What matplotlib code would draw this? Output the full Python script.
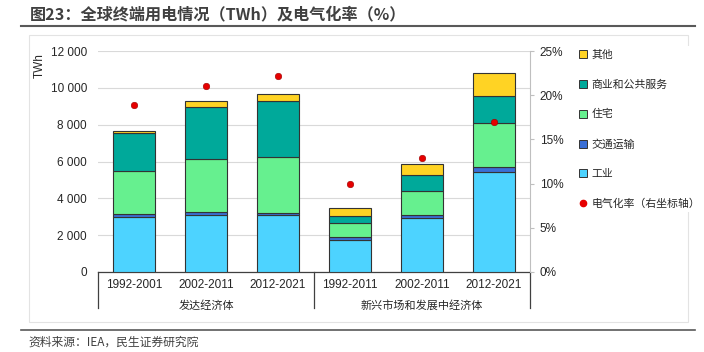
import matplotlib
matplotlib.use('Agg')
import matplotlib.pyplot as plt
from matplotlib.lines import Line2D
from matplotlib.patches import Rectangle
from matplotlib.transforms import blended_transform_factory
import numpy as np

plt.rcParams['font.family'] = ['Liberation Sans', 'Noto Sans CJK SC', 'DejaVu Sans']

# data (TWh)
periods = ['1992-2001', '2002-2011', '2012-2021', '1992-2011', '2002-2011', '2012-2021']
groups = ['发达经济体', '新兴市场和发展中经济体']
industry = [2990, 3100, 3080, 1720, 2910, 5410]
transport = [160, 140, 140, 180, 190, 280]
residential = [2320, 2880, 3050, 740, 1320, 2420]
commercial = [2060, 2850, 3000, 420, 830, 1450]
other = [150, 300, 400, 420, 600, 1250]
elec_rate = [18.9, 21.0, 22.2, 10.0, 12.9, 17.0]

series = [
    ('工业', industry, '#4DD3FF'),
    ('交通运输', transport, '#3A6FD6'),
    ('住宅', residential, '#66F08F'),
    ('商业和公共服务', commercial, '#00A99A'),
    ('其他', other, '#FFD324'),
]

fig = plt.figure(figsize=(7.04, 3.52), dpi=100)
W, H = 704, 352

def fx(px):
    return px / W

def fy(py):
    return 1 - py / H

ax = fig.add_axes([fx(98), fy(272), fx(530) - fx(98), fy(51) - fy(272)])
ax2 = ax.twinx()

x = np.arange(len(periods))
bottom = np.zeros(len(periods))
for name, vals, color in series:
    ax.bar(x, vals, 0.57, bottom=bottom, color=color, edgecolor='#333333',
           linewidth=0.8, zorder=3)
    bottom += np.array(vals)

ax2.scatter(x, elec_rate, s=22, color='#E60000', edgecolor='#990000',
            linewidth=0.4, zorder=5)

ax.set_xlim(-0.5, len(periods) - 0.5)
ax.set_ylim(0, 12000)
ax.set_yticks(range(0, 12001, 2000))
ax.set_yticklabels([f'{v:,}'.replace(',', ' ') for v in range(0, 12001, 2000)])
ax.grid(axis='y', color='#D9D9D9', linewidth=0.8, zorder=0)
ax.set_axisbelow(True)
ax.tick_params(axis='y', length=0, pad=8, labelsize=8.5, labelcolor='#262626')
ax.set_xticks(x)
ax.set_xticklabels(periods)
ax.tick_params(axis='x', length=0, pad=5, labelsize=8.5, labelcolor='#262626')
for s in ['left', 'top', 'right']:
    ax.spines[s].set_visible(False)
ax.spines['bottom'].set_color('#404040')
ax.spines['bottom'].set_linewidth(0.9)

ax2.set_ylim(0, 25)
ax2.set_yticks(range(0, 26, 5))
ax2.set_yticklabels([f'{v}%' for v in range(0, 26, 5)])
ax2.tick_params(axis='y', length=3, color='#BFBFBF', pad=4, labelsize=8.5,
                labelcolor='#262626')
for s in ['left', 'top', 'bottom']:
    ax2.spines[s].set_visible(False)
ax2.spines['right'].set_color('#BFBFBF')
ax2.spines['right'].set_linewidth(0.8)

# group separators and labels below the axis
tr = blended_transform_factory(ax.transData, ax.transAxes)
for xv in [-0.5, 2.5, 5.5]:
    ax.plot([xv, xv], [0, -0.163], transform=tr, color='#404040',
            linewidth=0.9, clip_on=False)
ax.text(1, -0.152, groups[0], transform=tr, ha='center', va='center',
        fontsize=8, color='#262626')
ax.text(4, -0.152, groups[1], transform=tr, ha='center', va='center',
        fontsize=8, color='#262626')

fig.text(fx(40), fy(66), 'TWh', rotation=90, ha='center', va='center',
         fontsize=8.5, color='#262626')

# chart frame
fig.add_artist(Rectangle((fx(29), fy(322)), fx(688) - fx(29), fy(35) - fy(322),
                         transform=fig.transFigure, fill=False,
                         edgecolor='#E3E3E3', linewidth=0.8, zorder=0))

# legend
handles = []
for name, vals, color in reversed(series):
    handles.append(Line2D([], [], marker='s', linestyle='none', markersize=5.5,
                          markerfacecolor=color, markeredgecolor='#333333',
                          markeredgewidth=0.7, label=name))
handles.append(Line2D([], [], marker='o', linestyle='none', markersize=4.5,
                      markerfacecolor='#E60000', markeredgecolor='#E60000',
                      label='电气化率（右坐标轴）'))
fig.legend(handles=handles, loc='upper left', bbox_to_anchor=(fx(570), fy(41)),
           frameon=True, facecolor='white', edgecolor='none', framealpha=1,
           fontsize=7.8, labelspacing=1.8, handlelength=0.8, handletextpad=0.4,
           borderpad=0.3, labelcolor='#262626')

# title, rules and source
fig.text(fx(30), fy(14), '图23：全球终端用电情况（TWh）及电气化率（%）',
         family=['Noto Sans CJK SC', 'DejaVu Sans'], fontweight='bold',
         fontsize=11.6, color='#404040', ha='left', va='center')
fig.add_artist(Line2D([fx(21), fx(695)], [fy(26), fy(26)], color='#595959',
                      linewidth=1.5, transform=fig.transFigure))
fig.add_artist(Line2D([fx(21), fx(695)], [fy(330), fy(330)], color='#595959',
                      linewidth=1.2, transform=fig.transFigure))
fig.text(fx(28), fy(342), '资料来源：IEA，民生证券研究院',
         family=['Noto Sans CJK SC', 'DejaVu Sans'], fontsize=8.5,
         color='#404040', ha='left', va='center')

fig.savefig('out.png', dpi=100)
